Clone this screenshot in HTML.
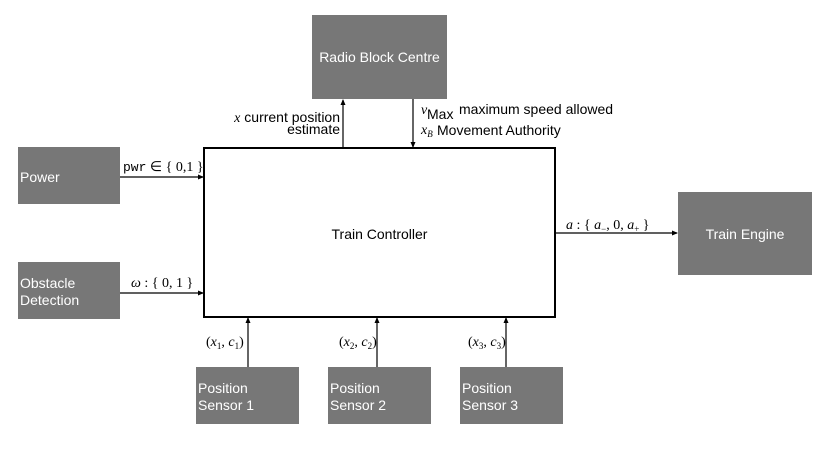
<!DOCTYPE html>
<html><head><meta charset="utf-8"><style>
html,body{margin:0;padding:0;background:#fff;}
svg{display:block;}
.b{fill:#777;}
.t{font-family:"Liberation Sans",sans-serif;font-size:14px;fill:#fff;}
.k{font-family:"Liberation Sans",sans-serif;font-size:14px;fill:#000;}
.m{font-family:"Liberation Serif",serif;font-size:14px;fill:#000;}
line{stroke:#000;stroke-width:1.2;}
</style></head><body>
<svg width="830" height="467" viewBox="0 0 830 467">
<defs><marker id="a" markerWidth="6" markerHeight="6" refX="5" refY="3" orient="auto" markerUnits="userSpaceOnUse"><path d="M0,0.5 L6,3 L0,5.5z" fill="#000"/></marker></defs>
<rect class="b" x="312" y="15" width="135" height="84"/>
<text class="t" x="379.5" y="62" text-anchor="middle">Radio Block Centre</text>
<rect class="b" x="18" y="147" width="102" height="57"/>
<text class="t" x="20" y="182">Power</text>
<rect class="b" x="18" y="262" width="102" height="57"/>
<text class="t" x="20" y="288">Obstacle</text>
<text class="t" x="20" y="305">Detection</text>
<rect x="204" y="148" width="351" height="169" fill="#fff" stroke="#000" stroke-width="2"/>
<text class="k" x="379.5" y="239" text-anchor="middle">Train Controller</text>
<rect class="b" x="678" y="192" width="134" height="83"/>
<text class="t" x="745" y="239" text-anchor="middle">Train Engine</text>
<rect class="b" x="196" y="367" width="103" height="57"/>
<text class="t" x="198" y="393">Position</text><text class="t" x="198" y="410">Sensor 1</text>
<rect class="b" x="328" y="367" width="103" height="57"/>
<text class="t" x="330" y="393">Position</text><text class="t" x="330" y="410">Sensor 2</text>
<rect class="b" x="460" y="367" width="103" height="57"/>
<text class="t" x="462" y="393">Position</text><text class="t" x="462" y="410">Sensor 3</text>
<line x1="343" y1="148" x2="343" y2="100" marker-end="url(#a)"/>
<line x1="413" y1="99" x2="413" y2="147" marker-end="url(#a)"/>
<line x1="120" y1="177" x2="203" y2="177" marker-end="url(#a)"/>
<line x1="120" y1="293" x2="203" y2="293" marker-end="url(#a)"/>
<line x1="555" y1="233" x2="677" y2="233" marker-end="url(#a)"/>
<line x1="248" y1="367" x2="248" y2="318" marker-end="url(#a)"/>
<line x1="377" y1="367" x2="377" y2="318" marker-end="url(#a)"/>
<line x1="506" y1="367" x2="506" y2="318" marker-end="url(#a)"/>
<text x="340" y="122" text-anchor="end" class="k"><tspan class="m" font-style="italic">x</tspan> current position</text>
<text x="340" y="134" text-anchor="end" class="k">estimate</text>
<text x="421" y="114" class="m" font-style="italic" font-size="12">v</text>
<text x="427" y="119" class="k" font-size="13">Max</text>
<text x="459" y="114" class="k">maximum speed allowed</text>
<text x="421" y="134" class="m" font-style="italic">x<tspan font-size="9" dy="3">B</tspan></text>
<text x="437" y="135" class="k">Movement Authority</text>
<text x="123" y="171" class="m"><tspan font-family="Liberation Mono" font-size="13">pwr</tspan> ∈ { 0,1 }</text>
<text x="131" y="287" class="m"><tspan font-style="italic">ω</tspan> : { 0, 1 }</text>
<text x="566" y="229" class="m"><tspan font-style="italic">a</tspan> : { <tspan font-style="italic">a</tspan><tspan font-size="9" dy="3">−</tspan><tspan dy="-3">, 0, </tspan><tspan font-style="italic">a</tspan><tspan font-size="9" dy="3">+</tspan><tspan dy="-3"> }</tspan></text>
<text x="206" y="346" class="m">(<tspan font-style="italic">x</tspan><tspan font-size="9" dy="3">1</tspan><tspan dy="-3">, </tspan><tspan font-style="italic">c</tspan><tspan font-size="9" dy="3">1</tspan><tspan dy="-3">)</tspan></text>
<text x="339" y="346" class="m">(<tspan font-style="italic">x</tspan><tspan font-size="9" dy="3">2</tspan><tspan dy="-3">, </tspan><tspan font-style="italic">c</tspan><tspan font-size="9" dy="3">2</tspan><tspan dy="-3">)</tspan></text>
<text x="468" y="346" class="m">(<tspan font-style="italic">x</tspan><tspan font-size="9" dy="3">3</tspan><tspan dy="-3">, </tspan><tspan font-style="italic">c</tspan><tspan font-size="9" dy="3">3</tspan><tspan dy="-3">)</tspan></text>
</svg>
</body></html>
